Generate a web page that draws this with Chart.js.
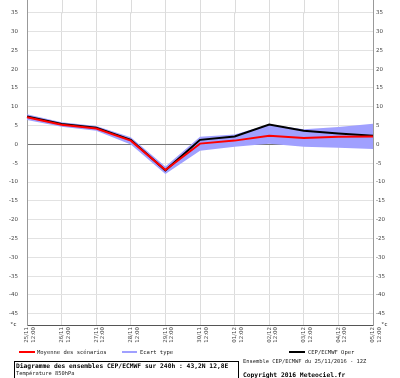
<!DOCTYPE html>
<html>
<head>
<meta charset="utf-8">
<script src="https://cdn.jsdelivr.net/npm/chart.js@4/dist/chart.umd.min.js"></script>
<style>
html,body{margin:0;padding:0;background:#fff;}
#wrap{position:relative;width:400px;height:378px;overflow:hidden;}
canvas{position:absolute;left:0;top:0;}
.t{position:absolute;font-family:"DejaVu Sans Mono",monospace;color:#222;white-space:nowrap;line-height:1;}
.ln{position:absolute;height:2px;}
</style>
</head>
<body>
<div id="wrap">
<canvas id="c" width="400" height="378"></canvas>
<div class="t" style="left:10px;top:322px;font-size:5.5px;">°c</div>
<div class="t" style="left:381px;top:322px;font-size:5.5px;">°c</div>

<div class="ln" style="left:19px;top:351px;width:16px;background:#ff0000;"></div>
<div class="t" style="left:37px;top:349.5px;font-size:5.5px;">Moyenne des scénarios</div>
<div class="ln" style="left:122px;top:351px;width:15px;background:#a0a0ff;"></div>
<div class="t" style="left:140px;top:349.5px;font-size:5.5px;">Ecart type</div>
<div class="ln" style="left:289px;top:351px;width:16px;background:#000;"></div>
<div class="t" style="left:308px;top:349.5px;font-size:5.5px;">CEP/ECMWF Oper</div>

<div style="position:absolute;left:14px;top:361px;width:225px;height:20px;border:1px solid #000;box-sizing:border-box;"></div>
<div class="t" style="left:16px;top:363px;font-size:6.3px;font-weight:bold;color:#000;">Diagramme des ensembles CEP/ECMWF sur 240h : 43,2N 12,8E</div>
<div class="t" style="left:16px;top:371px;font-size:5.4px;">Température 850hPa</div>
<div class="t" style="left:243px;top:359px;font-size:5.4px;">Ensemble CEP/ECMWF du 25/11/2016 - 12Z</div>
<div class="t" style="left:243px;top:372px;font-size:6.3px;font-weight:bold;color:#000;">Copyright 2016 Meteociel.fr</div>
</div>
<script>
const categories = [
  ["25/11","12:00"],["26/11","12:00"],["27/11","12:00"],["28/11","12:00"],
  ["29/11","12:00"],["30/11","12:00"],["01/12","12:00"],["02/12","12:00"],
  ["03/12","12:00"],["04/12","12:00"],["05/12","12:00"]
];
const meanScenarios = [7.2, 5.2, 4.2, 1.0, -6.8, 0.2, 1.0, 2.3, 1.7, 2.0, 2.1];
const operRun       = [7.4, 5.4, 4.4, 1.2, -6.9, 1.2, 2.1, 5.3, 3.6, 2.9, 2.3];
const stdUpper      = [8.0, 5.9, 4.9, 1.9, -5.9, 2.0, 2.6, 5.3, 4.0, 4.6, 5.5];
const stdLower      = [6.5, 4.7, 3.6, 0.0, -7.9, -1.7, -0.6, 0.2, -0.6, -0.9, -1.2];
const yTicks = [-45,-40,-35,-30,-25,-20,-15,-10,-5,0,5,10,15,20,25,30,35];

const tickFont = {family:"DejaVu Sans", size:5.5};
const setTicks = (axis) => { axis.ticks = yTicks.map(v => ({value:v})); };

// extends the vertical grid lines and the two side axes up to the top edge
const topExtension = {
  id:'topExtension',
  beforeDatasetsDraw(chart){
    const {ctx, chartArea, scales} = chart;
    const xs = scales.x;
    ctx.save();
    ctx.lineWidth = 1;
    xs.ticks.forEach((t, i) => {
      const px = Math.round(xs.getPixelForTick(i)) + 0.5;
      const edge = (i === 0 || i === xs.ticks.length - 1);
      ctx.strokeStyle = edge ? '#999' : '#dcdcdc';
      ctx.beginPath();
      ctx.moveTo(px, 0);
      ctx.lineTo(px, chartArea.top + 1);
      ctx.stroke();
    });
    ctx.restore();
  }
};

new Chart(document.getElementById('c'), {
  type: 'line',
  data: {
    labels: categories,
    datasets: [
      {label:'Moyenne des scénarios', data:meanScenarios, borderColor:'#ff0000', borderWidth:2, pointRadius:0, fill:false, order:0, yAxisID:'y'},
      {label:'CEP/ECMWF Oper', data:operRun, borderColor:'#000000', borderWidth:2, pointRadius:0, fill:false, order:1, yAxisID:'y'},
      {label:'Ecart type', data:stdUpper, borderWidth:0, borderColor:'rgba(0,0,0,0)', backgroundColor:'rgb(160,160,255)', pointRadius:0, fill:'+1', order:2, yAxisID:'y'},
      {label:'Ecart type bas', data:stdLower, borderWidth:0, borderColor:'rgba(0,0,0,0)', backgroundColor:'rgb(160,160,255)', pointRadius:0, fill:false, order:3, yAxisID:'y'}
    ]
  },
  plugins:[topExtension],
  options: {
    responsive:false, animation:false, devicePixelRatio:1,
    layout:{padding:0},
    plugins:{legend:{display:false}, tooltip:{enabled:false}, filler:{propagate:false}},
    elements:{line:{tension:0}},
    scales:{
      x:{
        offset:false,
        grid:{color:'#dcdcdc', lineWidth:1, drawTicks:false},
        border:{color:'#555', width:1},
        ticks:{minRotation:90, maxRotation:90, autoSkip:false, font:tickFont, color:'#444', padding:2},
        afterFit:(s)=>{ s.height = 53; }
      },
      y:{
        position:'left', min:-48, max:35.1,
        afterBuildTicks:setTicks,
        grid:{color:(c)=> (c.tick && c.tick.value===0) ? '#777' : '#e2e2e2', lineWidth:1, drawTicks:false},
        border:{color:'#999', width:1},
        ticks:{font:tickFont, color:'#444', padding:9},
        afterFit:(s)=>{ s.width = 27; }
      },
      y1:{
        position:'right', min:-48, max:35.1,
        afterBuildTicks:setTicks,
        grid:{display:false, drawTicks:false},
        border:{color:'#999', width:1},
        ticks:{font:tickFont, color:'#444', padding:3},
        afterFit:(s)=>{ s.width = 27; }
      }
    }
  }
});
</script>
</body>
</html>
